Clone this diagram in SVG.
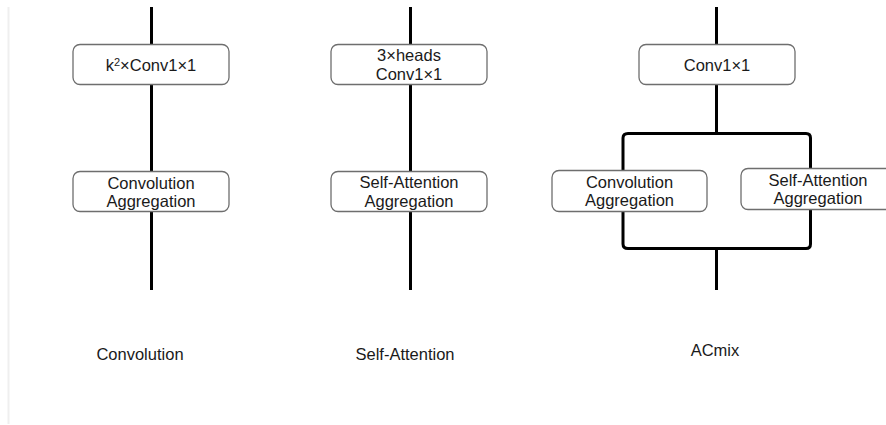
<svg xmlns="http://www.w3.org/2000/svg" width="886" height="425" viewBox="0 0 886 425">
<style>
.box{fill:#fff;stroke:#6e6e6e;stroke-width:1.3}
.ln{fill:none;stroke:#000;stroke-width:3}
text{font-family:"Liberation Sans",Arial,sans-serif;font-size:16.5px;fill:#1a1a1a;text-anchor:middle}
</style>
<rect width="886" height="425" fill="#fff"/>
<line x1="8.5" y1="7" x2="8.5" y2="424" stroke="#efefef" stroke-width="2"/>
<g id="connectors">
<line class="ln" x1="151.5" y1="7" x2="151.5" y2="290"/>
<line class="ln" x1="410.5" y1="7" x2="410.5" y2="290"/>
<line class="ln" x1="716.5" y1="7" x2="716.5" y2="133"/>
<path class="ln" d="M623,170 V138 Q623,133.5 628,133.5 H806 Q810.5,133.5 810.5,138 V170"/>
<path class="ln" d="M623,212 V244 Q623,248.5 628,248.5 H806 Q810.5,248.5 810.5,244 V210"/>
<line class="ln" x1="716.5" y1="248" x2="716.5" y2="290"/>
</g>
<g id="conv-k2">
<rect class="box" x="73" y="44.5" width="156" height="40" rx="7"/>
<text x="151" y="71">k<tspan font-size="11" dy="-5">2</tspan><tspan dy="5">×Conv1×1</tspan></text>
</g>
<g id="conv-agg">
<rect class="box" x="73" y="171.5" width="156" height="40" rx="7"/>
<text x="151" y="189">Convolution</text>
<text x="151" y="207">Aggregation</text>
</g>
<g id="sa-heads">
<rect class="box" x="331" y="44.5" width="156" height="40" rx="7"/>
<text x="409" y="61">3×heads</text>
<text x="409" y="80">Conv1×1</text>
</g>
<g id="sa-agg">
<rect class="box" x="331" y="171.5" width="156" height="40" rx="7"/>
<text x="409" y="188">Self-Attention</text>
<text x="409" y="207">Aggregation</text>
</g>
<g id="acmix-conv">
<rect class="box" x="639" y="44.5" width="156" height="40" rx="7"/>
<text x="717" y="71">Conv1×1</text>
</g>
<g id="acmix-conv-agg">
<rect class="box" x="552" y="170.5" width="155" height="41" rx="7"/>
<text x="629.5" y="188">Convolution</text>
<text x="629.5" y="206">Aggregation</text>
</g>
<g id="acmix-sa-agg">
<rect class="box" x="741" y="168.5" width="156" height="41" rx="7"/>
<text x="818" y="186">Self-Attention</text>
<text x="818" y="204">Aggregation</text>
</g>
<g id="labels">
<text x="140" y="360">Convolution</text>
<text x="405" y="360">Self-Attention</text>
<text x="715" y="356">ACmix</text>
</g>
</svg>
